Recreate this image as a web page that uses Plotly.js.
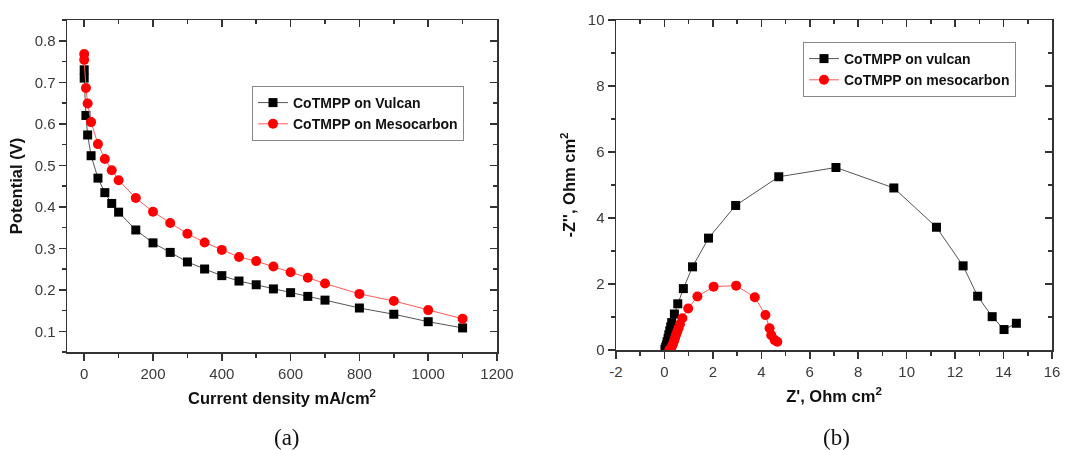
<!DOCTYPE html>
<html>
<head>
<meta charset="utf-8">
<script src="https://cdn.plot.ly/plotly-3.0.1.min.js"></script>
<style>html,body{margin:0;padding:0;background:#fff;}#chart{width:1069px;height:450px;}</style>
</head>
<body>
<div id="chart"></div>
<script>
// (a) polarization curves
var currentDensity = [0, 0, 5, 10, 20, 40, 60, 80, 100, 150, 200, 250, 300, 350, 400, 450, 500, 550, 600, 650, 700, 800, 900, 1000, 1100];
var vulcanPotential = [0.730, 0.710, 0.620, 0.573, 0.523, 0.469, 0.434, 0.408, 0.387, 0.344, 0.313, 0.290, 0.267, 0.250, 0.234, 0.221, 0.212, 0.202, 0.193, 0.184, 0.175, 0.156, 0.141, 0.123, 0.108];
var mesoPotential = [0.768, 0.754, 0.686, 0.649, 0.604, 0.551, 0.515, 0.488, 0.464, 0.421, 0.388, 0.361, 0.335, 0.314, 0.296, 0.279, 0.269, 0.256, 0.242, 0.229, 0.215, 0.190, 0.173, 0.151, 0.130];

// (b) Nyquist plots
var vulcanZre = [0.02, 0.05, 0.08, 0.11, 0.15, 0.18, 0.22, 0.26, 0.30, 0.41, 0.55, 0.78, 1.16, 1.82, 2.94, 4.72, 7.08, 9.47, 11.23, 12.33, 12.93, 13.53, 14.02, 14.53];
var vulcanZim = [0.02, 0.08, 0.15, 0.25, 0.35, 0.46, 0.58, 0.70, 0.83, 1.09, 1.40, 1.86, 2.52, 3.39, 4.38, 5.25, 5.53, 4.91, 3.72, 2.55, 1.63, 1.01, 0.62, 0.81];
var mesoZre = [0.20, 0.24, 0.28, 0.32, 0.36, 0.40, 0.44, 0.48, 0.53, 0.58, 0.64, 0.74, 0.98, 1.36, 2.03, 2.96, 3.73, 4.17, 4.34, 4.41, 4.55, 4.66];
var mesoZim = [0.01, 0.03, 0.07, 0.13, 0.20, 0.28, 0.37, 0.46, 0.56, 0.66, 0.78, 0.96, 1.26, 1.62, 1.92, 1.95, 1.60, 1.06, 0.66, 0.45, 0.30, 0.25];

var zreTickVals = [-2, 0, 2, 4, 6, 8, 10, 12, 14, 16];
var zreTickText = ['-2', '0', '2', '4', '6', '8', '10', '12', '14', '16'];

var legendA = ['CoTMPP on Vulcan', 'CoTMPP on Mesocarbon'];
var legendB = ['CoTMPP on vulcan', 'CoTMPP on mesocarbon'];

var tickFont = {family: 'Liberation Sans, Arial, sans-serif', size: 15, color: '#3a3a3a'};
var titleFont = {family: 'Liberation Sans, Arial, sans-serif', size: 16.5, color: '#111', weight: 'bold'};
var axCol = '#333';

var traces = [
  {x: currentDensity, y: vulcanPotential, name: legendA[0], mode: 'lines+markers', xaxis: 'x', yaxis: 'y', legend: 'legend',
   line: {color: '#555', width: 1}, marker: {symbol: 'square', size: 9, color: '#000'}},
  {x: currentDensity, y: mesoPotential, name: legendA[1], mode: 'lines+markers', xaxis: 'x', yaxis: 'y', legend: 'legend',
   line: {color: '#ff5a5a', width: 1}, marker: {symbol: 'circle', size: 10, color: '#ff0000'}},
  {x: vulcanZre, y: vulcanZim, name: legendB[0], mode: 'lines+markers', xaxis: 'x2', yaxis: 'y2', legend: 'legend2',
   line: {color: '#555', width: 1}, marker: {symbol: 'square', size: 9, color: '#000'}},
  {x: mesoZre, y: mesoZim, name: legendB[1], mode: 'lines+markers', xaxis: 'x2', yaxis: 'y2', legend: 'legend2',
   line: {color: '#ff5a5a', width: 1}, marker: {symbol: 'circle', size: 10, color: '#ff0000'}},
  // invisible helpers to draw the inward ticks on top/right frames
  {x: currentDensity, y: vulcanPotential, xaxis: 'x3', yaxis: 'y3', mode: 'markers', opacity: 0, showlegend: false, hoverinfo: 'skip'},
  {x: vulcanZre, y: vulcanZim, xaxis: 'x4', yaxis: 'y4', mode: 'markers', opacity: 0, showlegend: false, hoverinfo: 'skip'}
];

function baseAxis(o) {
  return Object.assign({
    showgrid: false, zeroline: false, showline: true, linecolor: axCol, linewidth: 1.5,
    ticks: 'outside', ticklen: 7, tickwidth: 1.5, tickcolor: axCol, tickfont: tickFont
  }, o);
}

var dA = [67/1069, 497/1069], dB = [616/1069, 1052/1069];
var yA = [1 - 352/450, 1 - 20/450], yB = [1 - 350/450, 1 - 20/450];
var legFont = {family: 'Liberation Sans, Arial, sans-serif', size: 14, color: '#111', weight: 'bold'};

var layout = {
  width: 1069, height: 450,
  margin: {l: 0, r: 0, t: 0, b: 0},
  paper_bgcolor: '#fff', plot_bgcolor: '#fff',
  showlegend: true,
  xaxis: baseAxis({domain: dA, anchor: 'y', range: [-50, 1200], dtick: 200, tick0: 0,
    minor: {dtick: 100, ticks: 'outside', ticklen: 4, tickcolor: axCol, tickwidth: 1.5},
    title: {text: 'Current density mA/cm<sup>2</sup>', font: titleFont, standoff: 12}}),
  yaxis: baseAxis({domain: yA, anchor: 'x', range: [0.05, 0.85], dtick: 0.1, tick0: 0,
    minor: {dtick: 0.05, ticks: 'outside', ticklen: 4, tickcolor: axCol, tickwidth: 1.5},
    title: {text: 'Potential (V)', font: titleFont, standoff: 8}}),
  xaxis3: baseAxis({overlaying: 'x', anchor: 'y3', side: 'top', range: [-50, 1200], dtick: 200, tick0: 0,
    ticks: 'inside', showticklabels: false,
    minor: {dtick: 100, ticks: 'inside', ticklen: 4, tickcolor: axCol, tickwidth: 1.5}}),
  yaxis3: baseAxis({overlaying: 'y', anchor: 'x3', side: 'right', range: [0.05, 0.85], dtick: 0.1, tick0: 0,
    ticks: 'inside', showticklabels: false,
    minor: {dtick: 0.05, ticks: 'inside', ticklen: 4, tickcolor: axCol, tickwidth: 1.5}}),
  xaxis2: baseAxis({domain: dB, anchor: 'y2', range: [-2, 16], tickmode: 'array', tickvals: zreTickVals, ticktext: zreTickText,
    minor: {dtick: 1, tick0: 0, ticks: 'outside', ticklen: 4, tickcolor: axCol, tickwidth: 1.5},
    title: {text: "Z', Ohm cm<sup>2</sup>", font: titleFont, standoff: 12}}),
  yaxis2: baseAxis({domain: yB, anchor: 'x2', range: [0, 10], dtick: 2, tick0: 0,
    minor: {dtick: 1, ticks: 'outside', ticklen: 4, tickcolor: axCol, tickwidth: 1.5},
    title: {text: "-Z'', Ohm cm<sup>2</sup>", font: titleFont, standoff: 8}}),
  xaxis4: baseAxis({overlaying: 'x2', anchor: 'y4', side: 'top', range: [-2, 16], dtick: 2, tick0: 0,
    ticks: 'inside', showticklabels: false,
    minor: {dtick: 1, ticks: 'inside', ticklen: 4, tickcolor: axCol, tickwidth: 1.5}}),
  yaxis4: baseAxis({overlaying: 'y2', anchor: 'x4', side: 'right', range: [0, 10], dtick: 2, tick0: 0,
    ticks: 'inside', showticklabels: false,
    minor: {dtick: 1, ticks: 'inside', ticklen: 4, tickcolor: axCol, tickwidth: 1.5}}),
  legend: {x: 252/1069, y: 1 - 86/450, xanchor: 'left', yanchor: 'top', bgcolor: '#fff',
    bordercolor: '#888', borderwidth: 1, tracegroupgap: 0, itemwidth: 30, font: legFont},
  legend2: {x: 803/1069, y: 1 - 42/450, xanchor: 'left', yanchor: 'top', bgcolor: '#fff',
    bordercolor: '#888', borderwidth: 1, tracegroupgap: 0, itemwidth: 30, font: legFont},
  annotations: [
    {text: '(a)', xref: 'paper', yref: 'paper', x: 287/1069, y: 1 - 437/450, xanchor: 'center', yanchor: 'middle',
     showarrow: false, font: {family: 'Liberation Serif, Times New Roman, serif', size: 23, color: '#111'}},
    {text: '(b)', xref: 'paper', yref: 'paper', x: 836/1069, y: 1 - 437/450, xanchor: 'center', yanchor: 'middle',
     showarrow: false, font: {family: 'Liberation Serif, Times New Roman, serif', size: 23, color: '#111'}}
  ]
};

Plotly.newPlot('chart', traces, layout, {displayModeBar: false, staticPlot: true});
</script>
</body>
</html>
